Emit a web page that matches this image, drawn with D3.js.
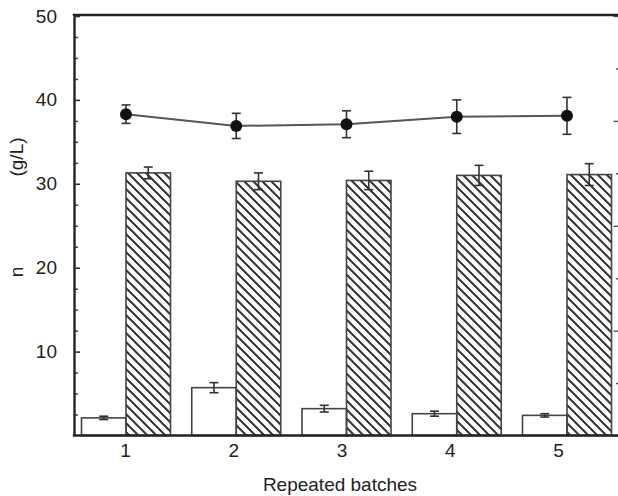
<!DOCTYPE html>
<html>
<head>
<meta charset="utf-8">
<script src="https://cdn.jsdelivr.net/npm/d3@7"></script>
<style>
    body { margin: 0; background: #fff; }
    text { font-family: "Liberation Sans", Arial, sans-serif; fill: #222; }
</style>
</head>
<body>
<div id="chart"></div>
<script>
const batches = [1, 2, 3, 4, 5];
const productA = [2.1, 5.7, 3.2, 2.6, 2.4];
const productAErr = [0.2, 0.6, 0.4, 0.3, 0.2];
const productB = [31.3, 30.3, 30.4, 31.0, 31.1];
const productBErr = [0.7, 1.0, 1.1, 1.2, 1.3];
const lineVals = [38.3, 36.9, 37.1, 38.0, 38.1];
const lineErr = [1.1, 1.5, 1.6, 2.0, 2.2];
const yTicks = [10, 20, 30, 40, 50];

const width = 618, height = 496;
const plot = {left: 74, right: 619.5, top: 16, bottom: 435.5};

const svg = d3.select("#chart").append("svg")
    .attr("width", width)
    .attr("height", height);

// hatch pattern for the second series
const defs = svg.append("defs");
defs.append("pattern")
    .attr("id", "hatch")
    .attr("patternUnits", "userSpaceOnUse")
    .attr("width", 9)
    .attr("height", 9)
    .append("path")
    .attr("d", "M0,0 L9,9 M-3,6 L3,12 M6,-3 L12,3")
    .attr("stroke", "#333")
    .attr("stroke-width", 2);

const y = d3.scaleLinear()
    .domain([0, 50])
    .range([plot.bottom, plot.top]);

// bar groups sit slightly off the tick labels, as in the original figure
const xBar = d3.scaleLinear()
    .domain([1, 5])
    .range([126, 567]);
const xTick = d3.scaleLinear()
    .domain([1, 5])
    .range([125, 558]);
const barW = 44.5;

const yRight = d3.scaleLinear()
    .domain([0, 8])
    .range([plot.bottom, plot.top]);

// white bars
svg.selectAll(".bar-a")
    .data(batches)
    .join("rect")
    .attr("class", "bar-a")
    .attr("x", (d) => xBar(d) - barW)
    .attr("y", (d, i) => y(productA[i]))
    .attr("width", barW)
    .attr("height", (d, i) => y(0) - y(productA[i]))
    .attr("fill", "#fff")
    .attr("stroke", "#444")
    .attr("stroke-width", 1.6);

// hatched bars
svg.selectAll(".bar-b")
    .data(batches)
    .join("rect")
    .attr("class", "bar-b")
    .attr("x", (d) => xBar(d))
    .attr("y", (d, i) => y(productB[i]))
    .attr("width", barW)
    .attr("height", (d, i) => y(0) - y(productB[i]))
    .attr("fill", "url(#hatch)")
    .attr("stroke", "#444")
    .attr("stroke-width", 1.6);

function errorBars(cls, xs, vals, errs) {
    const g = svg.selectAll("." + cls)
        .data(batches)
        .join("g")
        .attr("class", cls)
        .attr("stroke", "#333")
        .attr("stroke-width", 1.6);
    g.append("line")
        .attr("x1", (d, i) => xs(d, i))
        .attr("x2", (d, i) => xs(d, i))
        .attr("y1", (d, i) => y(vals[i] + errs[i]))
        .attr("y2", (d, i) => y(vals[i] - errs[i]));
    [1, -1].forEach(s => {
        g.append("line")
            .attr("x1", (d, i) => xs(d, i) - 4.5)
            .attr("x2", (d, i) => xs(d, i) + 4.5)
            .attr("y1", (d, i) => y(vals[i] + s * errs[i]))
            .attr("y2", (d, i) => y(vals[i] + s * errs[i]));
    });
}

errorBars("err-a", d => xBar(d) - barW / 2, productA, productAErr);
errorBars("err-b", d => xBar(d) + barW / 2, productB, productBErr);

// line series
svg.append("path")
    .datum(batches)
    .attr("fill", "none")
    .attr("stroke", "#555")
    .attr("stroke-width", 2)
    .attr("d", d3.line()
        .x(d => xBar(d))
        .y((d, i) => y(lineVals[i])));

errorBars("err-line", d => xBar(d), lineVals, lineErr);

svg.selectAll(".dot")
    .data(batches)
    .join("circle")
    .attr("class", "dot")
    .attr("cx", d => xBar(d))
    .attr("cy", (d, i) => y(lineVals[i]))
    .attr("r", 6)
    .attr("fill", "#111");

// left axis with inner ticks
const minorTicks = d3.range(2.5, 50, 2.5).filter(v => v % 10 !== 0);
svg.append("g")
    .attr("transform", `translate(${plot.left},0)`)
    .call(d3.axisLeft(y).tickValues(minorTicks).tickSize(-4).tickFormat(""))
    .call(g => g.select(".domain").remove())
    .selectAll("line").attr("stroke", "#444").attr("stroke-width", 1.5);

const yAxis = svg.append("g")
    .attr("transform", `translate(${plot.left},0)`)
    .call(d3.axisLeft(y).tickValues(yTicks).tickSize(-6).tickSizeOuter(0).tickPadding(17));
yAxis.select(".domain").attr("stroke", "#222").attr("stroke-width", 2.4);
yAxis.selectAll("line").attr("stroke", "#333").attr("stroke-width", 1.6);
yAxis.selectAll("text")
    .attr("font-size", 19)
    .attr("font-family", "Liberation Sans, Arial, sans-serif")
    .attr("fill", "#222");

// right axis (mostly cropped)
const yRightAxis = svg.append("g")
    .attr("transform", `translate(${plot.right},0)`)
    .call(d3.axisRight(yRight).ticks(8).tickSize(-4).tickSizeOuter(0).tickFormat(""));
yRightAxis.select(".domain").attr("stroke", "#222").attr("stroke-width", 2);
yRightAxis.selectAll(".tick line")
    .attr("x2", d => d % 2 === 0 ? -6 : -3.5)
    .attr("stroke", "#555")
    .attr("stroke-width", 1.4);

// top frame
svg.append("line")
    .attr("x1", plot.left - 1.2)
    .attr("x2", width)
    .attr("y1", plot.top - 1)
    .attr("y2", plot.top - 1)
    .attr("stroke", "#222")
    .attr("stroke-width", 2.4);

// bottom axis
const xAxis = svg.append("g")
    .attr("transform", `translate(0,${plot.bottom})`)
    .call(d3.axisBottom(xTick).tickValues(batches).tickFormat(d3.format("d"))
        .tickSize(0).tickPadding(8));
xAxis.select(".domain")
    .attr("d", `M${plot.left - 1.2},0H${width}`)
    .attr("stroke", "#222")
    .attr("stroke-width", 2.4);
xAxis.selectAll("text")
    .attr("font-size", 19)
    .attr("font-family", "Liberation Sans, Arial, sans-serif")
    .attr("fill", "#222");

// axis titles
svg.append("text")
    .attr("x", 340)
    .attr("y", 491)
    .attr("text-anchor", "middle")
    .attr("font-size", 19)
    .text("Repeated batches");

svg.append("text")
    .attr("transform", "translate(23,157) rotate(-90)")
    .attr("text-anchor", "middle")
    .attr("font-size", 19)
    .text("(g/L)");

svg.append("text")
    .attr("transform", "translate(23,272) rotate(-90)")
    .attr("text-anchor", "middle")
    .attr("font-size", 19)
    .text("n");
</script>
</body>
</html>
